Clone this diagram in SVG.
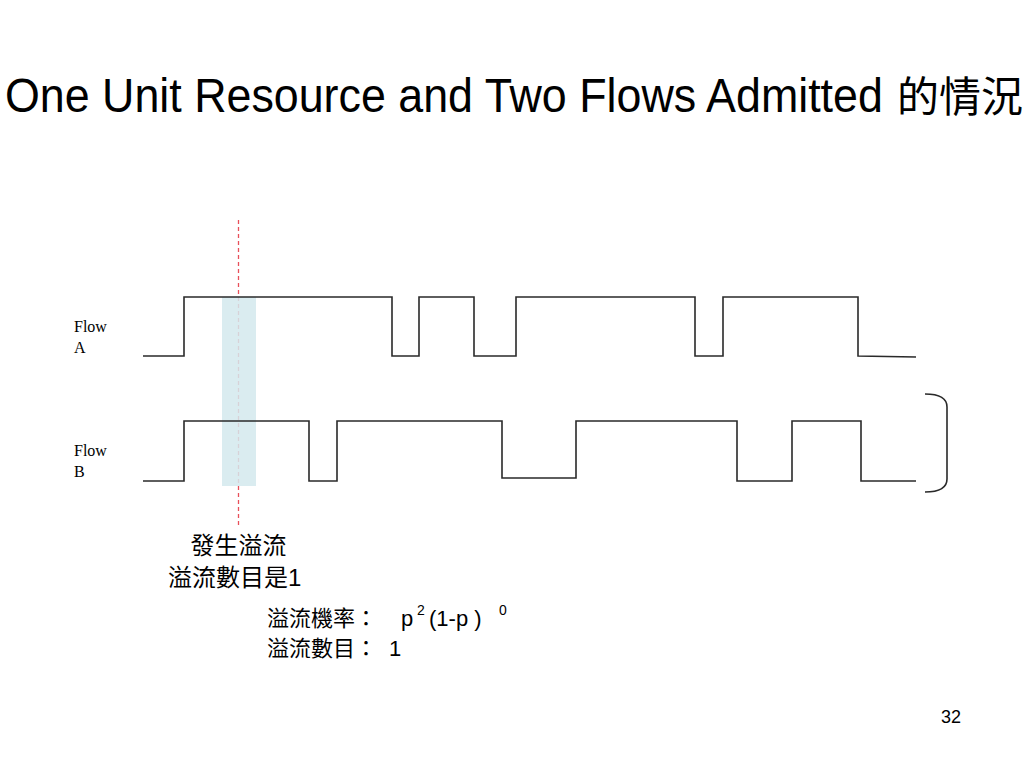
<svg xmlns="http://www.w3.org/2000/svg" width="1024" height="768" viewBox="0 0 1024 768">
<style>
.wave{fill:none;stroke:#2a2a2a;stroke-width:1.6}
.lbl{font-family:"Liberation Sans",Arial,sans-serif;font-family:"Liberation Serif","Times New Roman",serif;font-size:16px;fill:#000}
.cjk{font-family:"Liberation Sans","Noto Sans CJK TC",sans-serif;fill:#000}
.sans{font-family:"Liberation Sans",Arial,sans-serif;fill:#000}
</style>
<rect width="1024" height="768" fill="#fff"/>
<g id="title">
<text class="sans" transform="translate(5,112) scale(1,1.08)" x="0" y="0" font-size="44.8">One Unit Resource and Two Flows Admitted</text>
<text class="cjk" x="897" y="112" font-size="42">的情況</text>
</g>
<g id="overflow-marker">
<line x1="238.5" y1="220" x2="238.5" y2="526" stroke="#e8505a" stroke-width="1.3" stroke-dasharray="4,3"/>
<rect x="222" y="297" width="34" height="189" fill="#d3e9ed" fill-opacity="0.85"/>
</g>
<g id="connectors">
<path id="flowA-wave" class="wave" d="M143,356 H184 V297 H392 V356 H419 V297 H474 V356 H516 V297 H695 V356 H723 V297 H858 V356 L916,357"/>
<path id="flowB-wave" class="wave" d="M143,481 H184 V421 H309 V481 H337 V421 H502 V478 H576 V421 H737 V481 H792 V421 H861 V481 H916"/>
<path id="bracket" class="wave" d="M925,394 Q947,394 947,407 V479 Q947,492 925,492"/>
</g>
<g id="flowA-label">
<text class="lbl" x="74" y="332">Flow</text>
<text class="lbl" x="74" y="353">A</text>
</g>
<g id="flowB-label">
<text class="lbl" x="74" y="456">Flow</text>
<text class="lbl" x="74" y="477">B</text>
</g>
<g id="overflow-note">
<text class="cjk" x="238.5" y="554" font-size="24" text-anchor="middle">發生溢流</text>
<text class="cjk" x="168" y="586" font-size="24">溢流數目是1</text>
</g>
<g id="probability-note">
<text class="cjk" x="267" y="626" font-size="22">溢流機率：</text>
<text class="sans" x="401" y="626" font-size="22">p</text>
<text class="sans" x="417" y="615" font-size="14">2</text>
<text class="sans" x="429" y="626" font-size="22">(1-p )</text>
<text class="sans" x="499" y="615" font-size="14">0</text>
<text class="cjk" x="267" y="656" font-size="22">溢流數目：</text>
<text class="sans" x="389" y="656" font-size="22">1</text>
</g>
<g id="page-number">
<text class="sans" x="941" y="723" font-size="18">32</text>
</g>
</svg>
